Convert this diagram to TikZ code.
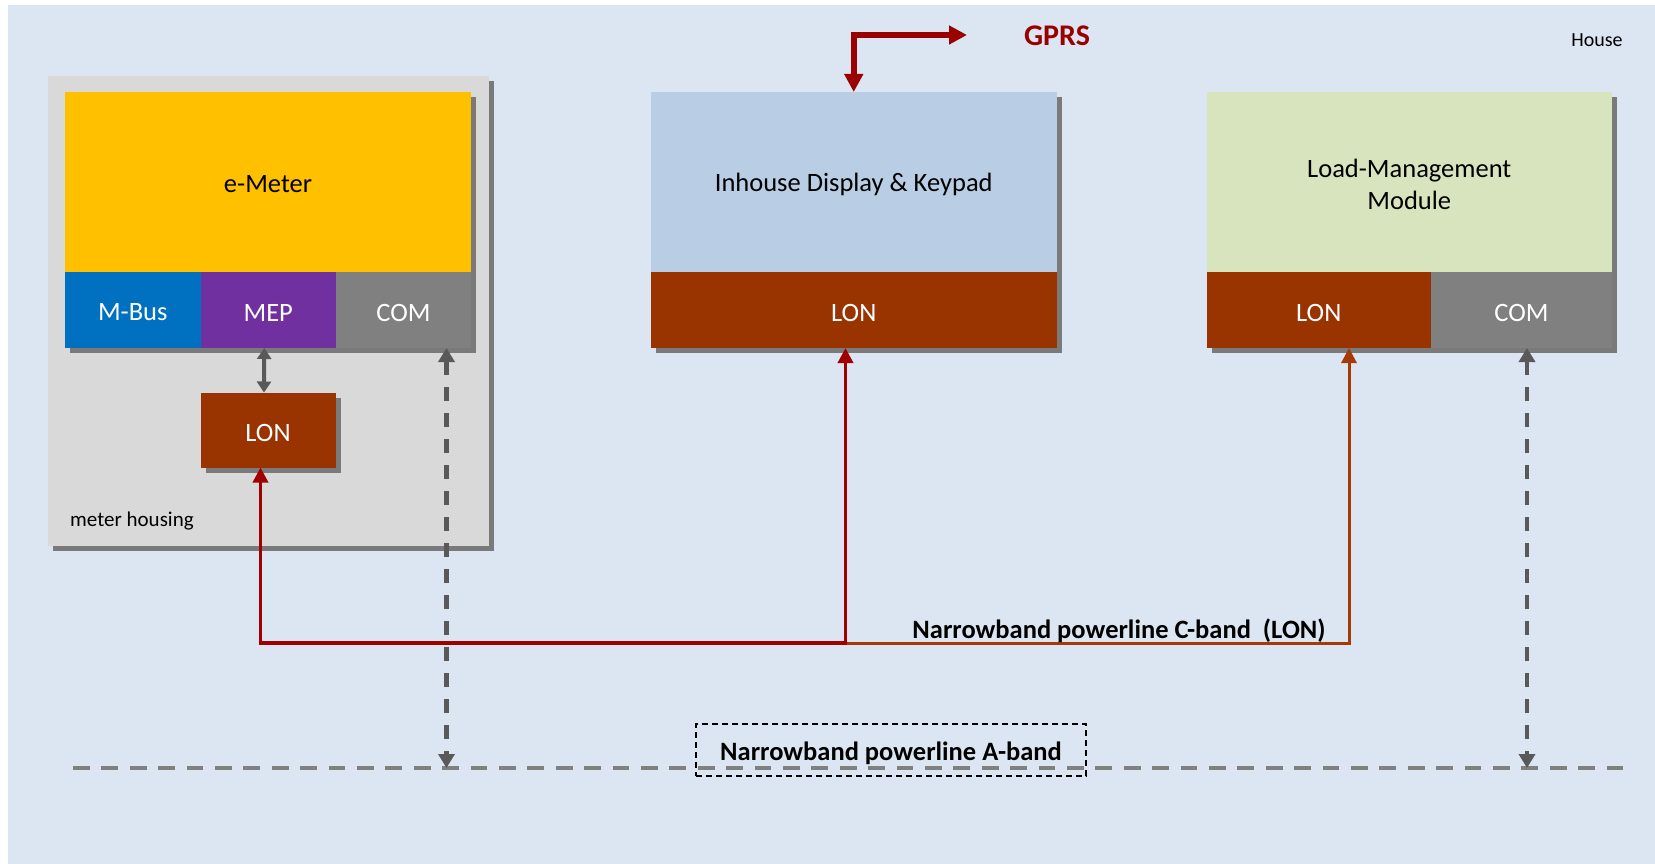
\documentclass[tikz,border=0pt]{standalone}
\usepackage{fontspec}
\setmainfont{Carlito}
\usetikzlibrary{arrows.meta,calc}
\definecolor{bgc}{HTML}{DCE6F2}
\definecolor{housingc}{HTML}{D9D9D9}
\definecolor{shadowc}{HTML}{7A7A7A}
\definecolor{yellowc}{HTML}{FFC000}
\definecolor{mbusc}{HTML}{0070C0}
\definecolor{mepc}{HTML}{7030A0}
\definecolor{comc}{HTML}{808080}
\definecolor{lonc}{HTML}{993300}
\definecolor{inhc}{HTML}{B9CDE5}
\definecolor{lmmc}{HTML}{D7E4BD}
\definecolor{redc}{HTML}{A00000}
\definecolor{orangec}{HTML}{A33A08}
\definecolor{gprsc}{HTML}{990000}
\definecolor{darkgrayc}{HTML}{595959}
\newcommand{\dn}[1]{\raisebox{-2.5pt}[\height][\depth]{#1}}
\tikzset{
  box/.style={rectangle, inner sep=0pt, outer sep=0pt, anchor=north west,
    font=\fontsize{26.5}{32}\selectfont},
  whitebox/.style={box, text=white},
  shade/.style={fill=shadowc},
  redline/.style={draw=redc, line width=3.5pt, {Triangle[length=15pt,width=15pt]}-{Triangle[length=15pt,width=15pt]}},
  orangeline/.style={draw=orangec, line width=3pt, -{Triangle[length=15pt,width=15pt]}},
  gdash/.style={draw=darkgrayc, line width=4.3pt, dash pattern=on 14pt off 12pt,
    {Triangle[length=14pt,width=16pt]}-{Triangle[length=14pt,width=16pt]}},
  gprsarrow/.style={draw=gprsc, line width=6pt, {Triangle[length=18pt,width=18pt]}-{Triangle[length=18pt,width=18pt]}},
  bandlabel/.style={font=\bfseries\fontsize{26.5}{32}\selectfont, text=black}
}
\begin{document}
\begin{tikzpicture}[x=1pt,y=-1pt]
\useasboundingbox (0,0) rectangle (1655,864);
\fill[bgc] (8,5) rectangle (1655,864);

% meter housing
\fill[shade] (52.5,81) rectangle (494,551);
\node[box, fill=housingc, minimum width=441.5pt, minimum height=470pt] (housing) at (47.5,76) {};
\node[anchor=west, inner sep=0pt, font=\fontsize{21}{25}\selectfont] (hlabel) at (70,521) {meter housing};

% e-Meter
\fill[shade] (70,97) rectangle (476,353);
\node[box, fill=yellowc, minimum width=406pt, minimum height=180pt] (emeter) at (65,92) {\dn{e-Meter}};
\node[whitebox, fill=mbusc, minimum width=135.5pt, minimum height=76pt] (mbus) at (65,272) {\dn{M-Bus}};
\node[whitebox, fill=mepc, minimum width=135.5pt, minimum height=76pt] (mep) at (200.5,272) {\dn{MEP}};
\node[whitebox, fill=comc, minimum width=135pt, minimum height=76pt] (ecom) at (336,272) {\dn{COM}};

% meter LON
\fill[shade] (205.5,397.5) rectangle (340.5,472.5);
\node[whitebox, fill=lonc, minimum width=135pt, minimum height=75pt] (mlon) at (200.5,392.5) {\dn{LON}};

% Inhouse display
\fill[shade] (656,97) rectangle (1061.5,353);
\node[box, fill=inhc, minimum width=405.5pt, minimum height=180pt] (inh) at (651,92) {\dn{Inhouse Display \& Keypad}};
\node[whitebox, fill=lonc, minimum width=405.5pt, minimum height=76pt] (ilon) at (651,272) {\dn{LON}};

% Load management module
\fill[shade] (1211.5,97) rectangle (1617,353);
\node[box, fill=lmmc, minimum width=405.5pt, minimum height=180pt,
  label={[font=\fontsize{26.5}{32}\selectfont, align=center, yshift=-2.5pt]center:Load-Management\\Module}] (lmm) at (1206.5,92) {};
\node[whitebox, fill=lonc, minimum width=224.5pt, minimum height=76pt] (llon) at (1206.5,272) {\dn{LON}};
\node[whitebox, fill=comc, minimum width=181pt, minimum height=76pt] (lcom) at (1431,272) {\dn{COM}};

% labels
\node[font=\fontsize{20}{24}\selectfont, inner sep=0pt] (house) at (1597,40) {House};
\node[font=\bfseries\fontsize{30}{36}\selectfont, text=gprsc, inner sep=0pt] (gprs) at (1057,36) {GPRS};

% GPRS arrow
\coordinate (gend) at (967,35);
\draw[gprsarrow] (inh.north) |- (gend);

% A-band line
\coordinate (aL) at (73,768);
\coordinate (aR) at (1631,768);
\draw[draw=comc, line width=4.7pt, dash pattern=on 16.7pt off 11.7pt] (aL) -- (aR);

% A-band label
\node[bandlabel, draw=black, line width=1.8pt, dash pattern=on 6pt off 4pt,
  minimum width=390pt, minimum height=52pt, inner sep=0pt] (aband) at (891,750) {\raisebox{-3pt}[\height][\depth]{Narrowband powerline A-band}};

% COM dashed arrows
\draw[gdash] ([xshift=43pt]ecom.south) -- ([xshift=43pt]ecom.south |- aL);
\draw[gdash] ([xshift=5.5pt]lcom.south) -- ([xshift=5.5pt]lcom.south |- aL);

% MEP <-> LON
\draw[draw=darkgrayc, line width=4pt, {Triangle[length=11pt,width=14pt]}-{Triangle[length=11pt,width=14pt]}]
  ([xshift=-4pt]mep.south) -- ([xshift=-4pt]mlon.north);

% LON connections
\coordinate (j) at (845.5,643);
\draw[orangeline] (j) -| ([xshift=30.25pt]llon.south);
\draw[redline] ([xshift=-7.5pt]mlon.south) |- (j) -- (j |- ilon.south);
\node[bandlabel, anchor=south, inner sep=0pt] (cband) at (1119,642.5) {Narrowband powerline C-band~~(LON)};
\end{tikzpicture}
\end{document}
